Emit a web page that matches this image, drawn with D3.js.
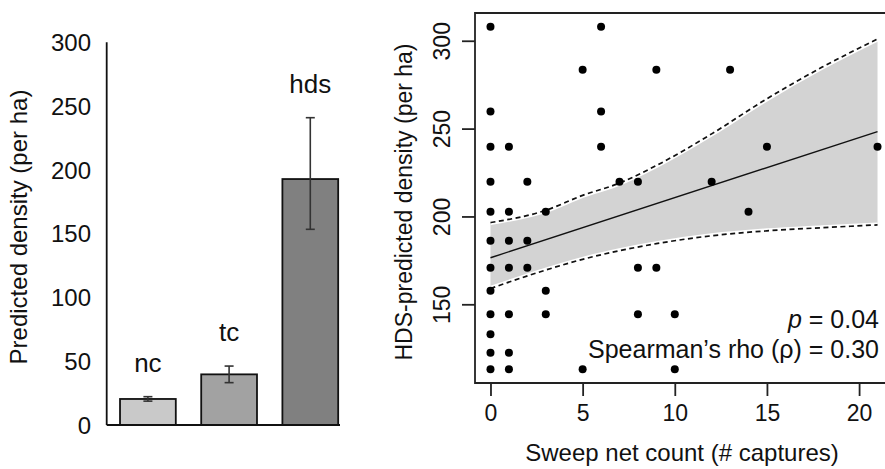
<!DOCTYPE html>
<html>
<head>
<meta charset="utf-8">
<script src="https://cdn.jsdelivr.net/npm/d3@7"></script>
<style>
  body { margin: 0; background: #fff; }
  svg { display: block; font-family: "Liberation Sans", Arial, sans-serif; }
</style>
</head>
<body>
<div id="chart-area"></div>
<script>
// left panel: predicted density by method
var methods = ["nc", "tc", "hds"];
var densityMean = [20.4, 39.7, 192.8];
var densityLow = [18.7, 33.2, 153.4];
var densityHigh = [22.2, 46.2, 240.9];
var barColors = ["#c9c9c9", "#a2a2a2", "#808080"];
var leftTicks = [0, 50, 100, 150, 200, 250, 300];

// right panel: sweep net count vs HDS-predicted density
var sweepCount = [0, 6,
    5, 9, 13,
    0, 6,
    0, 1, 6, 15, 21,
    0, 2, 7, 8, 12,
    0, 1, 3, 14,
    0, 1, 2,
    0, 1, 2, 8, 9,
    0, 3,
    0, 1, 3, 8, 10,
    0,
    0, 1,
    0, 1, 5, 10];
var hdsDensity = [308, 308,
    283.5, 283.5, 283.5,
    259.7, 259.7,
    239.6, 239.6, 239.6, 239.6, 239.6,
    219.7, 219.7, 219.7, 219.7, 219.7,
    202.7, 202.7, 202.7, 202.7,
    186.2, 186.2, 186.2,
    170.8, 170.8, 170.8, 170.8, 170.8,
    157.7, 157.7,
    144.4, 144.4, 144.4, 144.4, 144.4,
    133,
    122.4, 122.4,
    113, 113, 113, 113];

// fitted line and confidence band
var fitX = [0, 21];
var fitY = [176.5, 248.3];
var bandX = [0, 3, 5, 7, 9, 12, 15, 18, 21];
var bandUpper = [196.5, 203.5, 212, 219, 229, 247, 267, 285, 301];
var bandLower = [159, 169.5, 175.6, 180.5, 184.5, 189, 191.8, 193.6, 195.2];

var xTicks = [0, 5, 10, 15, 20];
var yTicks = [150, 200, 250, 300];

var width = 885;
var height = 469;

var svg = d3.select("#chart-area").append("svg")
    .attr("width", width)
    .attr("height", height);

// ---------- left bar chart ----------
var yL = d3.scaleLinear().domain([0, 300]).range([425, 42.3]);
var xL = d3.scaleBand().domain(methods)
    .range([106.7, 351.5])
    .paddingInner(0.313)
    .paddingOuter(0.164);

var left = svg.append("g");

left.selectAll("text.tick")
    .data(leftTicks)
    .enter().append("text")
    .attr("class", "tick")
    .attr("x", 91)
    .attr("y", (d) => yL(d))
    .attr("dy", "0.36em")
    .attr("text-anchor", "end")
    .attr("font-size", "24px")
    .attr("fill", "#111")
    .text((d) => d);

left.selectAll("rect")
    .data(methods)
    .enter().append("rect")
    .attr("x", (d) => xL(d))
    .attr("y", (d, i) => yL(densityMean[i]))
    .attr("width", xL.bandwidth())
    .attr("height", (d, i) => yL(0) - yL(densityMean[i]))
    .attr("fill", (d, i) => barColors[i])
    .attr("stroke", "#111")
    .attr("stroke-width", 1.8);

// error bars
var err = left.selectAll("g.err")
    .data(methods)
    .enter().append("g")
    .attr("class", "err")
    .attr("stroke", "#333")
    .attr("stroke-width", 1.6);
err.append("line")
    .attr("x1", (d) => xL(d) + xL.bandwidth() / 2)
    .attr("x2", (d) => xL(d) + xL.bandwidth() / 2)
    .attr("y1", (d, i) => yL(densityLow[i]))
    .attr("y2", (d, i) => yL(densityHigh[i]));
err.append("line")
    .attr("x1", (d) => xL(d) + xL.bandwidth() / 2 - 4.5)
    .attr("x2", (d) => xL(d) + xL.bandwidth() / 2 + 4.5)
    .attr("y1", (d, i) => yL(densityLow[i]))
    .attr("y2", (d, i) => yL(densityLow[i]));
err.append("line")
    .attr("x1", (d) => xL(d) + xL.bandwidth() / 2 - 4.5)
    .attr("x2", (d) => xL(d) + xL.bandwidth() / 2 + 4.5)
    .attr("y1", (d, i) => yL(densityHigh[i]))
    .attr("y2", (d, i) => yL(densityHigh[i]));

// bar labels
left.selectAll("text.lab")
    .data(methods)
    .enter().append("text")
    .attr("class", "lab")
    .attr("x", (d) => xL(d) + xL.bandwidth() / 2)
    .attr("y", (d, i) => yL(densityHigh[i]) - 25)
    .attr("text-anchor", "middle")
    .attr("font-size", "26px")
    .attr("fill", "#111")
    .text((d) => d);

// axis lines
left.append("line")
    .attr("x1", 106.7).attr("x2", 106.7)
    .attr("y1", yL(300)).attr("y2", yL(0))
    .attr("stroke", "#111").attr("stroke-width", 1.8);
left.append("line")
    .attr("x1", 106.7).attr("x2", 340)
    .attr("y1", yL(0)).attr("y2", yL(0))
    .attr("stroke", "#111").attr("stroke-width", 1.8);

// Y Label
left.append("text")
    .attr("x", -227)
    .attr("y", 26.5)
    .attr("transform", "rotate(-90)")
    .attr("text-anchor", "middle")
    .attr("font-size", "24px")
    .attr("fill", "#111")
    .text("Predicted density (per ha)");

// ---------- right scatter ----------
var x = d3.scaleLinear().domain([-0.84, 21.84]).range([475, 893]);
var y = d3.scaleLinear().domain([105.2, 315.8]).range([383, 13]);

var right = svg.append("g");

var bandData = bandX.map((d, i) => ({ x: d, lo: bandLower[i], hi: bandUpper[i] }));

right.append("path")
    .datum(bandData)
    .attr("d", d3.area()
        .x((d) => x(d.x))
        .y0((d) => y(d.lo))
        .y1((d) => y(d.hi))
        .curve(d3.curveMonotoneX))
    .attr("fill", "#d3d3d3");

["hi", "lo"].forEach((k) => {
    var ln = d3.line()
        .x((d) => x(d.x))
        .y((d) => y(d[k]))
        .curve(d3.curveMonotoneX);
    right.append("path")
        .datum(bandData)
        .attr("d", ln)
        .attr("fill", "none")
        .attr("stroke", "#fff")
        .attr("stroke-width", 5);
    right.append("path")
        .datum(bandData)
        .attr("d", ln)
        .attr("fill", "none")
        .attr("stroke", "#111")
        .attr("stroke-width", 1.7)
        .attr("stroke-dasharray", "5,3.5");
});

right.append("line")
    .attr("x1", x(fitX[0])).attr("x2", x(fitX[1]))
    .attr("y1", y(fitY[0])).attr("y2", y(fitY[1]))
    .attr("stroke", "#111")
    .attr("stroke-width", 1.4);

right.selectAll("circle")
    .data(sweepCount)
    .enter().append("circle")
    .attr("cx", (d) => x(d))
    .attr("cy", (d, i) => y(hdsDensity[i]))
    .attr("r", 4)
    .attr("fill", "#000");

// stats text
right.append("text")
    .attr("x", 879).attr("y", 328)
    .attr("text-anchor", "end")
    .attr("font-size", "25px")
    .attr("fill", "#111")
    .html('<tspan font-style="italic">p</tspan> = 0.04');
right.append("text")
    .attr("x", 879).attr("y", 358)
    .attr("text-anchor", "end")
    .attr("font-size", "25px")
    .attr("fill", "#111")
    .text("Spearman\u2019s rho (\u03c1) = 0.30");

// box (right edge falls outside the picture)
right.append("path")
    .attr("d", "M" + 893 + "," + 13 + "H475V383H893")
    .attr("fill", "none")
    .attr("stroke", "#222")
    .attr("stroke-width", 1.8);

// axes
var bottomAxis = d3.axisBottom(x).tickValues(xTicks).tickSize(13).tickSizeOuter(0);
var bx = right.append("g")
    .attr("transform", "translate(0,383)")
    .call(bottomAxis);
bx.select(".domain").remove();
bx.selectAll("line").attr("stroke", "#222").attr("stroke-width", 1.8);
bx.selectAll("text")
    .attr("font-size", "23px")
    .attr("font-family", "Liberation Sans, Arial, sans-serif")
    .attr("fill", "#111")
    .attr("y", 22)
    .attr("dy", "0.71em");

var leftAxis = d3.axisLeft(y).tickValues(yTicks).tickSize(13).tickSizeOuter(0);
var ly = right.append("g")
    .attr("transform", "translate(475,0)")
    .call(leftAxis);
ly.select(".domain").remove();
ly.selectAll("line").attr("stroke", "#222").attr("stroke-width", 1.8);
ly.selectAll("text")
    .attr("font-size", "23px")
    .attr("font-family", "Liberation Sans, Arial, sans-serif")
    .attr("fill", "#111")
    .attr("x", null)
    .attr("dy", null)
    .attr("text-anchor", "middle")
    .attr("transform", "translate(-25,0) rotate(-90)");

// X Label
right.append("text")
    .attr("x", 682).attr("y", 461)
    .attr("text-anchor", "middle")
    .attr("font-size", "24px")
    .attr("fill", "#111")
    .text("Sweep net count (# captures)");

// Y Label
right.append("text")
    .attr("x", -202)
    .attr("y", 411.5)
    .attr("transform", "rotate(-90)")
    .attr("text-anchor", "middle")
    .attr("font-size", "23px")
    .attr("fill", "#111")
    .text("HDS-predicted density (per ha)");
</script>
</body>
</html>
